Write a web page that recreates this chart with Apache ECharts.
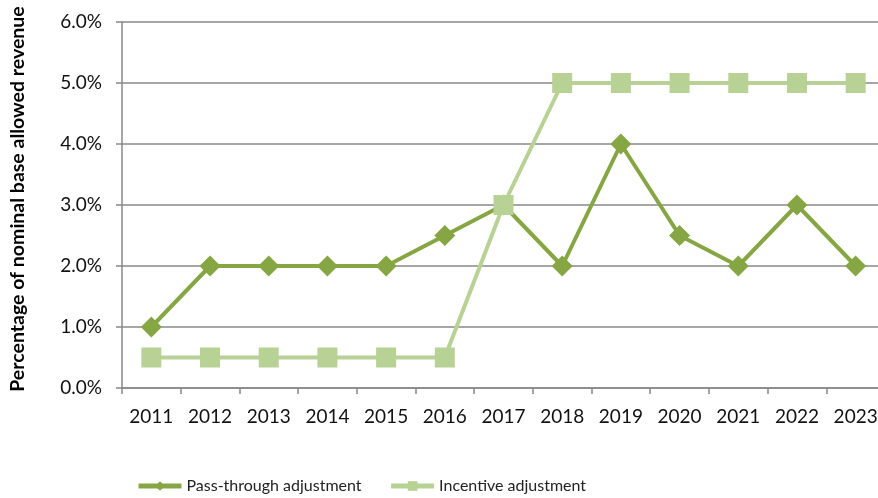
<!DOCTYPE html>
<html>
<head>
<meta charset="utf-8">
<script src="https://cdn.jsdelivr.net/npm/echarts@6/dist/echarts.min.js"></script>
<style>
  html, body { margin: 0; padding: 0; background: #fff; }
  #chart { width: 878px; height: 498px; }
</style>
</head>
<body>
<div id="chart"></div>
<script>
// Years on the category axis
const years = ['2011','2012','2013','2014','2015','2016','2017','2018','2019','2020','2021','2022','2023'];
// Adjustment shares, in percent of nominal base allowed revenue
const passThrough = [1.0, 2.0, 2.0, 2.0, 2.0, 2.5, 3.0, 2.0, 4.0, 2.5, 2.0, 3.0, 2.0];
const incentive   = [0.5, 0.5, 0.5, 0.5, 0.5, 0.5, 3.0, 5.0, 5.0, 5.0, 5.0, 5.0, 5.0];
const seriesNames = ['Pass-through adjustment', 'Incentive adjustment'];

const darkGreen = '#86a644';
const lightGreen = '#b8d194';
const gridGrey = '#888888';
const fontFamily = 'Lato, "Open Sans", sans-serif';

const chart = echarts.init(document.getElementById('chart'), null, { renderer: 'canvas' });
chart.setOption({
  animation: false,
  grid: {
    left: 122, right: -7, top: 22, bottom: 110,
    containLabel: false,
    outerBoundsMode: 'none'
  },
  legend: {
    top: 473,
    left: 131,
    itemWidth: 43,
    itemHeight: 12,
    itemGap: 27,
    lineStyle: { width: 5 },
    textStyle: { fontFamily, fontSize: 16, color: '#222' },
    data: seriesNames
  },
  xAxis: {
    type: 'category',
    data: years,
    boundaryGap: true,
    axisLine: { lineStyle: { color: gridGrey, width: 1.5 } },
    axisTick: { show: true, length: 6, lineStyle: { color: gridGrey, width: 1.5 } },
    axisLabel: { fontFamily, fontSize: 19, color: '#111', margin: 19 }
  },
  yAxis: {
    type: 'value',
    min: 0,
    max: 6,
    interval: 1,
    name: 'Percentage of nominal base allowed revenue',
    nameLocation: 'middle',
    nameGap: 94,
    nameTextStyle: { fontFamily, fontSize: 19.5, fontWeight: 'bold', color: '#000', padding: [0, 0, 0, 12] },
    axisLine: { show: true, lineStyle: { color: gridGrey, width: 1.5 } },
    axisTick: { show: true, length: 6, lineStyle: { color: gridGrey, width: 1.5 } },
    axisLabel: {
      fontFamily, fontSize: 19, color: '#111', margin: 20,
      formatter: v => v.toFixed(1) + '%'
    },
    splitLine: { lineStyle: { color: gridGrey, width: 1.5 } }
  },
  series: [
    {
      name: seriesNames[0],
      type: 'line',
      data: passThrough,
      symbol: 'diamond',
      symbolSize: 21,
      z: 2,
      lineStyle: { color: darkGreen, width: 4 },
      itemStyle: { color: darkGreen }
    },
    {
      name: seriesNames[1],
      type: 'line',
      data: incentive,
      symbol: 'rect',
      symbolSize: 20,
      z: 3,
      lineStyle: { color: lightGreen, width: 4 },
      itemStyle: { color: lightGreen }
    }
  ]
});
</script>
</body>
</html>
